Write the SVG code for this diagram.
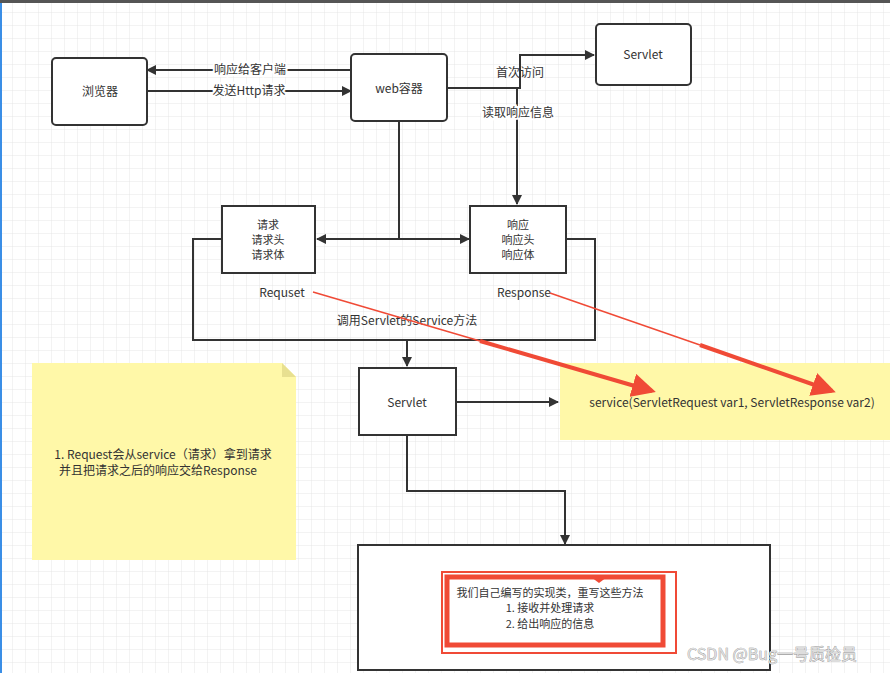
<svg xmlns="http://www.w3.org/2000/svg" width="890" height="673" viewBox="0 0 890 673">
<defs>
<pattern id="grid" width="13" height="13" patternUnits="userSpaceOnUse"><path d="M13 0V13H0" fill="none" stroke="#e6e6e6" stroke-width="1"/></pattern>
<marker id="ah" markerWidth="10" markerHeight="10" refX="9" refY="5" orient="auto" markerUnits="userSpaceOnUse"><path d="M0,0L10,5L0,10z" fill="#333"/></marker>
<marker id="rh" markerWidth="6" markerHeight="6" refX="5" refY="3" orient="auto"><path d="M0,0L6,3L0,6z" fill="#f04a36"/></marker>
<style>
.box{fill:#fff;stroke:#333;stroke-width:2}
.ln{fill:none;stroke:#333;stroke-width:2}
text{font-family:"Noto Sans CJK SC","Liberation Sans",sans-serif;font-size:12px;fill:#333;text-anchor:middle}
.sm{font-size:11px}
.lb{paint-order:stroke;stroke:#fff;stroke-width:4}
.note{fill:#fff8a8}
.red{fill:none;stroke:#f04a36}
</style>
</defs>
<rect width="890" height="673" fill="#fff"/>
<rect width="890" height="673" fill="url(#grid)"/>
<rect x="0" y="0" width="890" height="3" fill="#555"/>
<rect x="0" y="3" width="2" height="670" fill="#3a8ee6"/>
<g id="notes">
<path class="note" d="M32 363H282L296 377V560H32Z"/>
<path d="M282 363V377H296" fill="#e8e090"/>
<rect class="note" x="560" y="363" width="330" height="77"/>
</g>
<g id="connectors">
<path class="ln" d="M351 70H147" marker-end="url(#ah)"/>
<path class="ln" d="M147 91H351" marker-end="url(#ah)"/>
<path class="ln" d="M447 88H520V55H594" marker-end="url(#ah)"/>
<path class="ln" d="M517 88V204" marker-end="url(#ah)"/>
<path class="ln" d="M399 121V239"/>
<path class="ln" d="M399 239H317" marker-end="url(#ah)"/>
<path class="ln" d="M399 239H469" marker-end="url(#ah)"/>
<path class="ln" d="M222 239H193V340H595V239H566"/>
<path class="ln" d="M407 340V366" marker-end="url(#ah)"/>
<path class="ln" d="M456 402H558" marker-end="url(#ah)"/>
<path class="ln" d="M407 435V491H565V544" marker-end="url(#ah)"/>
<text class="lb" x="250" y="74">响应给客户端</text>
<text class="lb" x="249" y="95">发送Http请求</text>
<text x="520" y="77">首次访问</text>
<text class="lb" x="518" y="117">读取响应信息</text>
</g>
<g id="browser"><rect class="box" x="52" y="58" width="95" height="67" rx="4"/><text x="100" y="96">浏览器</text></g>
<g id="web"><rect class="box" x="351" y="54" width="96" height="67" rx="4"/><text x="399" y="93">web容器</text></g>
<g id="servlet-top"><rect class="box" x="596" y="24" width="95" height="61" rx="4"/><text x="643" y="59">Servlet</text></g>
<g id="request"><rect class="box" x="222" y="206" width="93" height="67"/><text class="sm" x="268" y="229">请求</text><text class="sm" x="268" y="244">请求头</text><text class="sm" x="268" y="259">请求体</text></g>
<g id="response"><rect class="box" x="470" y="206" width="96" height="67"/><text class="sm" x="518" y="229">响应</text><text class="sm" x="518" y="244">响应头</text><text class="sm" x="518" y="259">响应体</text></g>
<g id="labels">
<text x="282" y="297">Requset</text>
<text x="524" y="297">Response</text>
<text x="407" y="325">调用Servlet的Service方法</text>
</g>
<g id="servlet"><rect class="box" x="359" y="368" width="97" height="67"/><text x="407" y="407">Servlet</text></g>
<g id="service-note"><text x="732" y="407">service(ServletRequest var1, ServletResponse var2)</text></g>
<g id="left-note"><text x="163" y="459">1. Request会从service（请求）拿到请求</text><text x="158" y="475">并且把请求之后的响应交给Response</text></g>
<g id="impl">
<rect class="box" x="358" y="545" width="412" height="125"/>
<rect class="red" x="442" y="572" width="234" height="81" stroke-width="2"/>
<rect class="red" x="447" y="577" width="216" height="68" stroke-width="5"/>
<path d="M591 577l8 6l8-6z" fill="#f04a36"/>
<text class="sm" x="550" y="597">我们自己编写的实现类，重写这些方法</text>
<text class="sm" x="550" y="612">1. 接收并处理请求</text>
<text class="sm" x="550" y="628">2. 给出响应的信息</text>
</g>
<g id="red-arrows">
<path d="M313 292L480 341" stroke="#f04a36" stroke-width="1.5" fill="none"/>
<path d="M480 341L652 391" stroke="#f04a36" stroke-width="4" fill="none" marker-end="url(#rh)"/>
<path d="M550 293L700 345" stroke="#f04a36" stroke-width="1.5" fill="none"/>
<path d="M700 345L832 391" stroke="#f04a36" stroke-width="4" fill="none" marker-end="url(#rh)"/>
</g>
<text x="772" y="660" style="font-size:16px;fill:#ddd;paint-order:stroke;stroke:#888;stroke-width:0.6">CSDN @Bug一号质检员</text>
</svg>
